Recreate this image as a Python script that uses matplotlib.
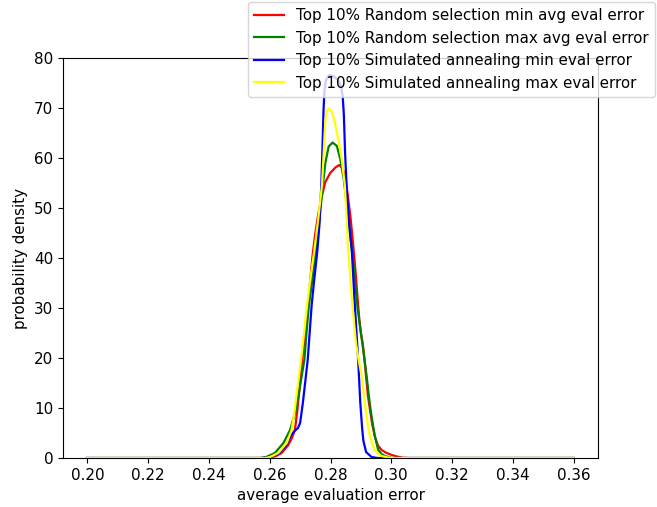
import matplotlib
matplotlib.use("Agg")
import matplotlib.pyplot as plt

plt.rcParams['font.size'] = 10.9

# density curves of the top 10% runs (x = average evaluation error)
rs_min_x = [0.20, 0.2594, 0.2621, 0.2639, 0.2660, 0.2673, 0.2683, 0.2691, 0.2700, 0.2707,
            0.2718, 0.2727, 0.2734, 0.2741, 0.2749, 0.2759, 0.2770, 0.2783, 0.2799, 0.2816,
            0.2829, 0.2840, 0.2849, 0.2857, 0.2866, 0.2874, 0.2882, 0.2889, 0.2895, 0.2900,
            0.2906, 0.2912, 0.2917, 0.2923, 0.2930, 0.2938, 0.2946, 0.2956, 0.2968, 0.2985,
            0.3002, 0.3019, 0.3038, 0.3061, 0.36]
rs_min_y = [0, 0, 0.4, 1, 2.5, 4, 5.6, 9.6, 15, 19.6,
            26, 30.6, 36, 40.5, 44.5, 48.5, 52, 55.2, 57, 58.1,
            58.6, 57.9, 56, 52.5, 48, 43, 37.5, 32, 27.6, 25,
            22.9, 19.6, 16.3, 12.5, 9.6, 6.5, 4.3, 2.5, 1.6, 1,
            0.6, 0.3, 0.05, 0, 0]

rs_max_x = [0.20, 0.2568, 0.2588, 0.2617, 0.2645, 0.2667, 0.2686, 0.2700, 0.2714, 0.2721,
            0.2729, 0.2741, 0.2752, 0.2764, 0.2775, 0.2783, 0.2794, 0.2807, 0.2821, 0.2832,
            0.2843, 0.2850, 0.2858, 0.2866, 0.2874, 0.2882, 0.2889, 0.2899, 0.2908, 0.2919,
            0.2926, 0.2932, 0.2940, 0.2946, 0.2957, 0.2968, 0.2979, 0.3002, 0.36]
rs_max_y = [0, 0, 0.2, 1, 3, 5.6, 9.6, 14.5, 19.6, 25,
            30.6, 36, 41.6, 48, 54.6, 59, 62.3, 63.1, 62.4, 59.8,
            56, 52.5, 48, 44, 39.5, 34.5, 30, 25.5, 21.5, 16.3,
            12.5, 9.6, 6.5, 4.3, 1.6, 0.8, 0.4, 0, 0]

sa_min_x = [0.20, 0.2575, 0.2601, 0.2627, 0.2654, 0.2670, 0.2680, 0.2693, 0.2700, 0.2709,
            0.2725, 0.2738, 0.2747, 0.2757, 0.2764, 0.2770, 0.2774, 0.2777, 0.2780, 0.2785,
            0.2792, 0.2799, 0.2811, 0.2825, 0.2834, 0.2840, 0.2844, 0.2848, 0.2854, 0.2862,
            0.2870, 0.2880, 0.2891, 0.2898, 0.2904, 0.2908, 0.2917, 0.2935, 0.2956, 0.36]
sa_min_y = [0, 0, 0.2, 0.8, 2.5, 4.5, 5.3, 6, 7, 11,
            19.6, 30.6, 36, 41.6, 47, 55, 63, 69.5, 73.5, 75.5,
            76.4, 76.6, 76.3, 75.6, 74.5, 72.5, 68.5, 61, 53, 46.5,
            41.6, 30.6, 19.6, 11, 6, 3.5, 1.2, 0.2, 0, 0]

sa_max_x = [0.20, 0.2584, 0.2601, 0.2628, 0.2656, 0.2672, 0.2682, 0.2691, 0.2703, 0.2713,
            0.2723, 0.2734, 0.2747, 0.2760, 0.2772, 0.2778, 0.2783, 0.2788, 0.2794, 0.2805,
            0.2816, 0.2827, 0.2838, 0.2847, 0.2853, 0.2858, 0.2865, 0.2872, 0.2884, 0.2892,
            0.2903, 0.2909, 0.2916, 0.2923, 0.2930, 0.2938, 0.2946, 0.2956, 0.2968, 0.2989,
            0.3012, 0.36]
sa_max_y = [0, 0, 0.2, 1, 3, 5.6, 9.5, 14, 19.6, 25,
            30.6, 36, 41.6, 48, 54.6, 61.5, 67.5, 69.4, 69.9, 69.3,
            66.6, 63.3, 59.3, 54.6, 48, 41.6, 36, 30.6, 22.9, 19.8,
            16.3, 13, 9.6, 6.5, 4.3, 2.6, 1.6, 0.9, 0.4, 0.1,
            0, 0]

xticks = [0.20, 0.22, 0.24, 0.26, 0.28, 0.30, 0.32, 0.34, 0.36]

fig = plt.figure(figsize=(6.57, 5.07), dpi=100)
ax = fig.add_axes([0.0959, 0.0966, 0.8143, 0.789])

ax.plot(rs_min_x, rs_min_y, color='red', lw=1.6, label='Top 10% Random selection min avg eval error')
ax.plot(rs_max_x, rs_max_y, color='green', lw=1.6, label='Top 10% Random selection max avg eval error')
ax.plot(sa_min_x, sa_min_y, color='blue', lw=1.6, label='Top 10% Simulated annealing min eval error')
ax.plot(sa_max_x, sa_max_y, color='yellow', lw=1.6, label='Top 10% Simulated annealing max eval error')

ax.set_ylim(0, 80)
ax.set_xticks(xticks)
ax.set_xticklabels(["%.2f" % t for t in xticks])
ax.set_xlabel("average evaluation error")
ax.set_ylabel("probability density")

ax.legend(loc='upper right', bbox_to_anchor=(0.997, 0.996),
          bbox_transform=fig.transFigure, borderaxespad=0)

fig.savefig("out.png", dpi=100)
